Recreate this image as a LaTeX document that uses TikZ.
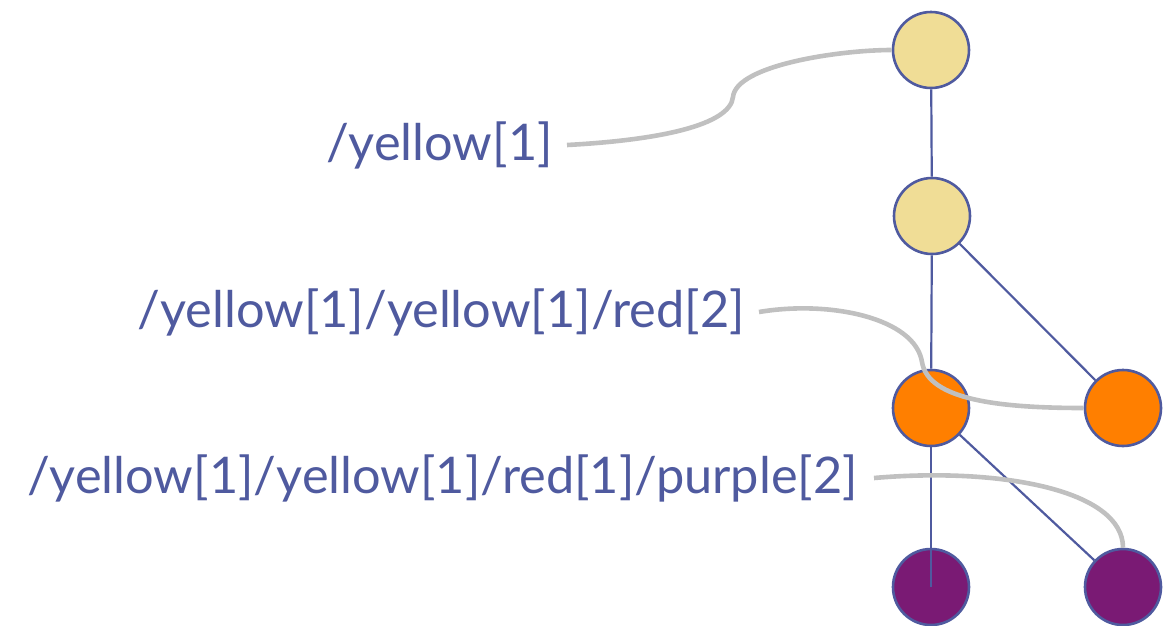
\documentclass[tikz,border=0pt]{standalone}
\usepackage{fontspec}
\setmainfont{Lato}
\definecolor{inkblue}{HTML}{4F5A9F}
\definecolor{paleyellow}{HTML}{F0DD96}
\definecolor{deeporange}{HTML}{FF7F00}
\definecolor{plum}{HTML}{7A1A74}
\definecolor{leader}{HTML}{C0C0C0}
\begin{document}
\begin{tikzpicture}[x=1pt,y=-1pt,
  treenode/.style={circle,draw=inkblue,line width=2.6pt,minimum size=76pt,inner sep=0pt},
  branch/.style={draw=inkblue,line width=2.2pt},
  pathlabel/.style={text=inkblue,font=\fontsize{50.5}{54}\selectfont,inner sep=0pt,anchor=east},
  callout/.style={draw=leader,line width=4.6pt}]
\useasboundingbox (0,0) rectangle (1168,625);
% tree nodes
\node[treenode,fill=paleyellow] (y1) at (931,50) {};
\node[treenode,fill=paleyellow] (y2) at (932,216) {};
\node[treenode,fill=deeporange] (r1) at (931,408) {};
\node[treenode,fill=deeporange] (r2) at (1123,408) {};
\node[treenode,fill=plum] (p1) at (931,587) {};
\node[treenode,fill=plum] (p2) at (1123,587) {};
% branches
\draw[branch] (y1) -- (y2);
\draw[branch] (y2) -- (r1);
\draw[branch] (y2) -- (r2);
\draw[branch] (r1.south) -- (p1.center);
\draw[branch] (r1) -- (p2);
% path labels
\node[pathlabel] (l1) at (553,145) {/yellow[1]};
\node[pathlabel] (l2) at (745,312) {/yellow[1]/yellow[1]/red[2]};
\node[pathlabel] (l3) at (858,478) {/yellow[1]/yellow[1]/red[1]/purple[2]};
% callout leaders
\coordinate (k1) at (733,97);
\coordinate (k2) at (922,362);
\draw[callout] ([xshift=14pt]l1.east) .. controls (660,140) and (730,125) .. (k1)
  .. controls (736,65) and (840,50) .. (y1.west);
\draw[callout] ([xshift=14pt]l2.east) .. controls (830,300) and (915,318) .. (k2)
  .. controls (928,400) and (1000,408) .. (r2.west);
\draw[callout] ([xshift=16pt]l3.east) .. controls (1000,467) and (1123,490) .. (p2.north);
\end{tikzpicture}
\end{document}
